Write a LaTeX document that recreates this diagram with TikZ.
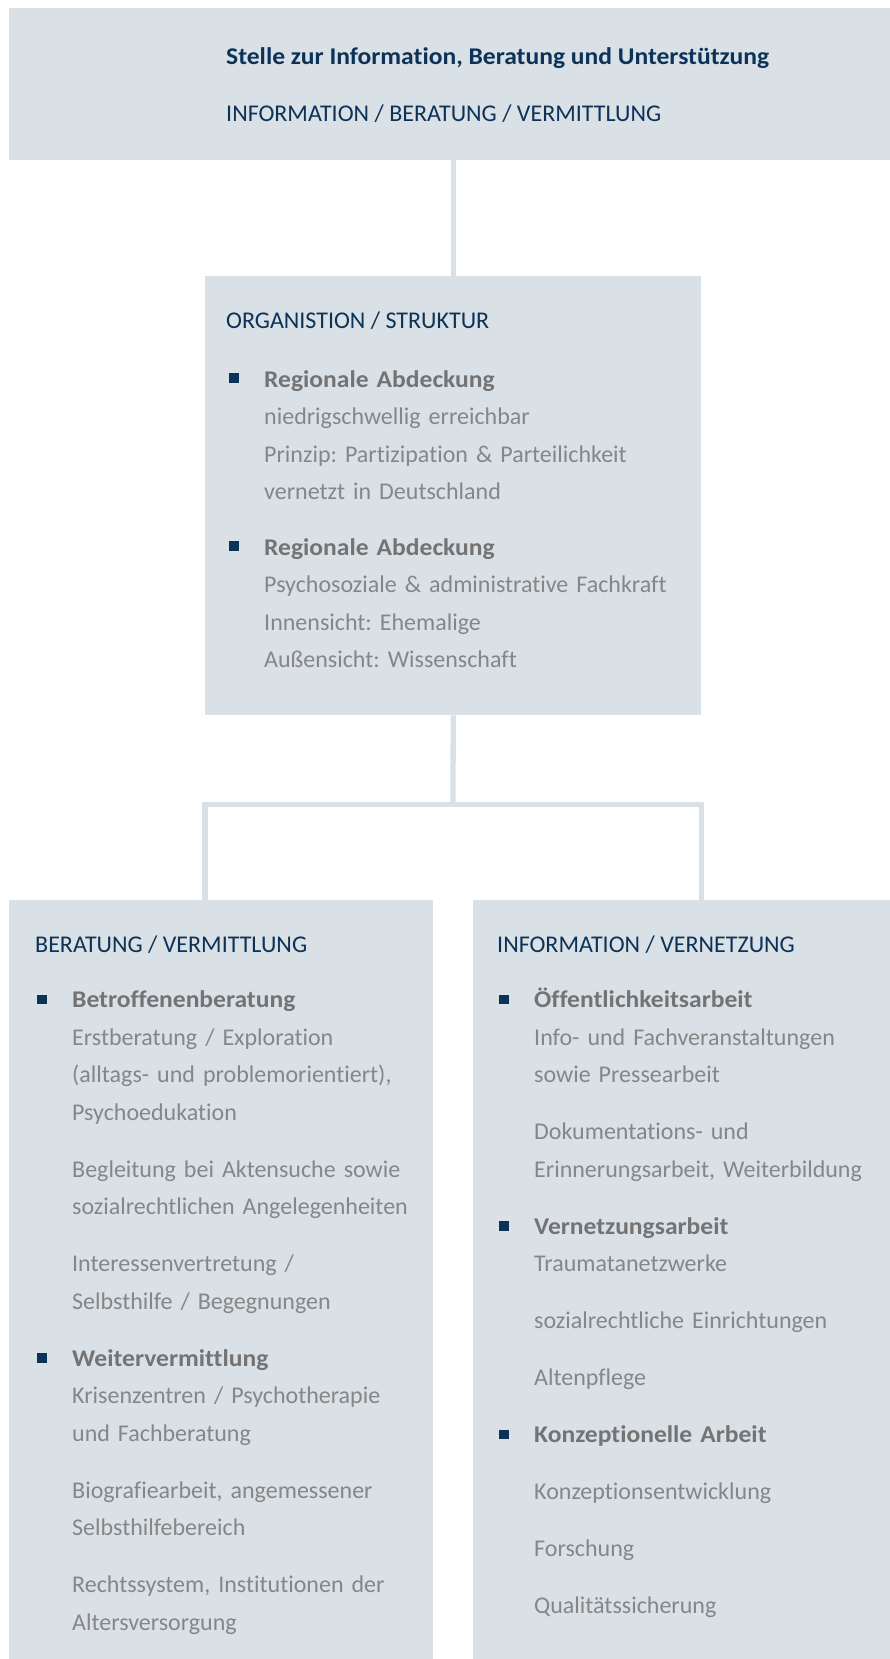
\documentclass[tikz,border=0pt]{standalone}
\usepackage{fontspec}
\setmainfont{Carlito}[Ligatures=NoCommon, BoldFeatures={FakeStretch=1.065}]
\usetikzlibrary{positioning}
\frenchspacing

\definecolor{boxgrey}{HTML}{D9E0E6}
\definecolor{navy}{HTML}{0D3257}
\definecolor{textgrey}{HTML}{868686}
\definecolor{leadgrey}{HTML}{737373}

\newcommand{\boldline}[1]{{\bfseries\color{leadgrey}#1}}

\tikzset{
  panel/.style={fill=boxgrey, draw=none, anchor=north west, inner sep=0pt},
  head/.style={anchor=base west, inner sep=0pt, text=navy, font=\fontsize{24}{37.5}\selectfont},
  item/.style={anchor=base west, inner sep=0pt, text=textgrey, align=left,
    text width=430pt, font=\fontsize{24}{37.5}\selectfont},
  dot/.style={fill=navy, minimum size=9.3pt, inner sep=0pt},
  link/.style={draw=boxgrey, line width=5.3pt}
}

\begin{document}
\begin{tikzpicture}[x=1pt,y=-1pt]
  \useasboundingbox (0,0) rectangle (890,1659);

  % boxes
  \node[panel, minimum width=881.5pt, minimum height=152pt] (top) at (8.5,8) {};
  \node[panel, minimum width=496pt, minimum height=439pt] (org) at (205,276) {};
  \node[panel, minimum width=424pt, minimum height=759pt] (ber) at (9,900) {};
  \node[panel, minimum width=417pt, minimum height=759pt] (inf) at (473,900) {};

  % connectors
  \coordinate (fork) at (453,804.5);
  \draw[link] (top.south -| org.north) -- (org.north);
  \draw[link] (org.south) -- (fork);
  \draw[link] (ber.north -| org.west) |- (fork) -| (inf.north -| org.east);

  % top box
  \node[head, font=\fontsize{24}{37.5}\selectfont\bfseries] (toptitle) at (226,65) {Stelle zur Information, Beratung und Unterstützung};
  \node[head] (topsub) at (226,122) {INFORMATION / BERATUNG / VERMITTLUNG};

  % organisation
  \node[head] (orghead) at (226,328) {ORGANISTION / STRUKTUR};
  \node[dot] (orgdot1) at (234,378) {};
  \node[item] (orgtxt1) at (264,387) {\boldline{Regionale Abdeckung}\\
    niedrigschwellig erreichbar\\
    Prinzip: Partizipation \& Parteilichkeit\\
    vernetzt in Deutschland};
  \node[dot] (orgdot2) at (234,546) {};
  \node[item] (orgtxt2) at (264,555) {\boldline{Regionale Abdeckung}\\
    Psychosoziale \& administrative Fachkraft\\
    Innensicht: Ehemalige\\
    Außensicht: Wissenschaft};

  % beratung
  \node[head] (berhead) at (35,952) {BERATUNG / VERMITTLUNG};
  \node[dot] (berdot1) at (42,999.5) {};
  \node[item] (bertxt1) at (72,1007.5) {\boldline{Betroffenenberatung}\\
    Erstberatung / Exploration\\
    (alltags- und problemorientiert),\\
    Psychoedukation\\[19.5pt]
    Begleitung bei Aktensuche sowie\\
    sozialrechtlichen Angelegenheiten\\[19.5pt]
    Interessenvertretung /\\
    Selbsthilfe / Begegnungen};
  \node[dot] (berdot2) at (42,1358) {};
  \node[item] (bertxt2) at (72,1366) {\boldline{Weitervermittlung}\\
    Krisenzentren / Psychotherapie\\
    und Fachberatung\\[19.5pt]
    Biografiearbeit, angemessener\\
    Selbsthilfebereich\\[19.5pt]
    Rechtssystem, Institutionen der\\
    Altersversorgung};

  % information
  \node[head] (infhead) at (497,952) {INFORMATION / VERNETZUNG};
  \node[dot] (infdot1) at (504,999.5) {};
  \node[item] (inftxt1) at (534,1007.5) {\boldline{Öffentlichkeitsarbeit}\\
    Info- und Fachveranstaltungen\\
    sowie Pressearbeit\\[19.5pt]
    Dokumentations- und\\
    Erinnerungsarbeit, Weiterbildung};
  \node[dot] (infdot2) at (504,1226) {};
  \node[item] (inftxt2) at (534,1234) {\boldline{Vernetzungsarbeit}\\
    Traumatanetzwerke\\[19.5pt]
    sozialrechtliche Einrichtungen\\[19.5pt]
    Altenpflege};
  \node[dot] (infdot3) at (504,1434.5) {};
  \node[item] (inftxt3) at (534,1442.5) {\boldline{Konzeptionelle Arbeit}\\[19.5pt]
    Konzeptionsentwicklung\\[19.5pt]
    Forschung\\[19.5pt]
    Qualitätssicherung};
\end{tikzpicture}
\end{document}
